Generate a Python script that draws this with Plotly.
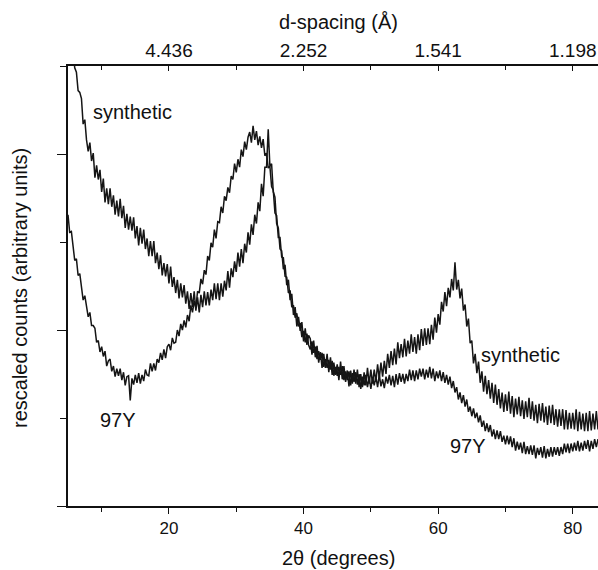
import numpy as np
import plotly.graph_objects as go

# 2-theta sampling grid (degrees), 0.25 deg steps from 5 to 83.75
two_theta = np.arange(5, 84, 0.25)

# rescaled counts (arbitrary units) (100 units per y tick)
counts_97Y = [
    331, 311, 312, 292, 279, 281, 262, 264, 251, 234, 239, 225, 215, 220, 205, 205,
    202, 186, 188, 175, 181, 170, 176, 159, 165, 167, 153, 159, 147, 156, 148, 156,
    143, 152, 137, 147, 148, 120, 145, 138, 149, 140, 151, 139, 149, 142, 155, 149,
    148, 162, 153, 162, 154, 167, 163, 174, 166, 178, 168, 181, 184, 177, 191, 185,
    186, 200, 193, 207, 200, 211, 203, 217, 210, 228, 220, 233, 225, 244, 242, 258,
    252, 268, 263, 284, 279, 299, 294, 314, 304, 323, 322, 340, 333, 352, 347, 362,
    356, 375, 371, 389, 379, 394, 385, 405, 397, 414, 405, 419, 425, 413, 432, 416,
    426, 410, 420, 407, 417, 398, 401, 384, 386, 363, 359, 333, 330, 305, 305, 283,
    282, 261, 260, 242, 245, 226, 228, 214, 219, 204, 208, 192, 199, 186, 196, 183,
    178, 187, 174, 181, 167, 176, 166, 174, 158, 167, 157, 166, 155, 165, 148, 158,
    148, 158, 149, 159, 143, 153, 143, 153, 137, 151, 141, 152, 138, 150, 133, 147,
    137, 149, 135, 146, 133, 146, 137, 147, 135, 149, 136, 144, 134, 147, 139, 149,
    137, 148, 135, 150, 138, 151, 141, 150, 139, 150, 142, 155, 143, 154, 142, 154,
    144, 156, 147, 156, 144, 155, 146, 158, 145, 156, 142, 153, 145, 154, 142, 152,
    140, 149, 138, 147, 134, 142, 129, 135, 121, 129, 117, 126, 113, 121, 107, 113,
    102, 111, 100, 106, 95, 103, 90, 97, 85, 94, 84, 92, 79, 87, 76, 86,
    76, 85, 73, 80, 70, 80, 70, 79, 67, 77, 63, 73, 64, 72, 60, 73,
    59, 68, 59, 69, 58, 69, 54, 66, 58, 67, 55, 68, 54, 65, 56, 67,
    56, 67, 58, 67, 57, 67, 59, 71, 61, 71, 60, 71, 62, 72, 63, 74,
    62, 72, 63, 74, 65, 75, 62, 74, 65, 76, 67, 76,
]

counts_synthetic = [
    592, 560, 545, 515, 498, 493, 472, 470, 463, 434, 439, 416, 403, 413, 392, 401,
    373, 387, 371, 382, 357, 372, 345, 361, 343, 361, 340, 353, 331, 347, 329, 349,
    327, 341, 316, 332, 314, 329, 313, 328, 304, 318, 296, 316, 298, 314, 292, 304,
    284, 301, 284, 301, 276, 288, 269, 285, 262, 276, 261, 275, 253, 272, 249, 260,
    242, 257, 236, 253, 237, 251, 230, 244, 224, 242, 226, 244, 222, 237, 220, 240,
    226, 244, 228, 243, 228, 246, 234, 253, 235, 253, 234, 253, 238, 256, 245, 267,
    248, 270, 260, 278, 266, 288, 272, 292, 276, 298, 288, 311, 297, 320, 308, 331,
    321, 345, 335, 366, 352, 385, 385, 428, 386, 389, 357, 351, 321, 316, 292, 290,
    269, 274, 251, 257, 234, 241, 217, 226, 204, 215, 199, 209, 187, 202, 183, 194,
    190, 172, 188, 169, 182, 163, 175, 157, 173, 157, 173, 152, 169, 149, 163, 149,
    161, 143, 164, 144, 159, 141, 154, 136, 154, 139, 155, 139, 155, 135, 150, 135,
    152, 137, 157, 139, 155, 139, 155, 141, 161, 145, 163, 147, 165, 150, 173, 157,
    176, 160, 179, 161, 186, 168, 184, 169, 190, 170, 188, 173, 195, 175, 192, 173,
    195, 177, 201, 182, 202, 183, 202, 184, 206, 189, 214, 197, 218, 206, 232, 221,
    243, 227, 248, 237, 258, 245, 277, 246, 257, 236, 247, 222, 229, 204, 213, 185,
    188, 162, 173, 151, 164, 140, 153, 130, 148, 127, 143, 122, 140, 117, 138, 115,
    133, 111, 129, 107, 127, 108, 130, 105, 125, 101, 122, 104, 124, 102, 120, 99,
    119, 101, 123, 99, 119, 97, 115, 94, 116, 97, 117, 95, 113, 92, 114, 94,
    115, 92, 110, 90, 110, 91, 110, 87, 109, 87, 106, 88, 106, 87, 110, 85,
    107, 87, 105, 85, 106, 85, 108, 86, 105, 87, 108, 87,
]

top_tick_pos = [20, 40, 60, 80]
top_tick_text = ["4.436", "2.252", "1.541", "1.198"]

labels = [
    ("synthetic", 8.4, 448),
    ("97Y", 9.4, 98),
    ("synthetic", 66.1, 172),
    ("97Y", 61.5, 68),
]

FONT = "Liberation Sans, Arial, Helvetica, sans-serif"
INK = "#151515"

fig = go.Figure()
fig.add_trace(go.Scatter(x=two_theta, y=counts_97Y, mode="lines",
                         line=dict(color=INK, width=1.5), showlegend=False,
                         hoverinfo="skip"))
fig.add_trace(go.Scatter(x=two_theta, y=counts_synthetic, mode="lines",
                         line=dict(color=INK, width=1.5), showlegend=False,
                         hoverinfo="skip"))
# invisible trace bound to the top (d-spacing) axis
fig.add_trace(go.Scatter(x=[top_tick_pos[0]], y=[0], xaxis="x2", mode="markers",
                         marker=dict(opacity=0), showlegend=False, hoverinfo="skip"))

xrange = [5, 83.75]

fig.update_layout(
    width=598, height=570,
    margin=dict(l=68, r=0, t=66, b=64),
    paper_bgcolor="white", plot_bgcolor="white",
    font=dict(family=FONT, color="#111"),
    xaxis=dict(
        range=xrange, showgrid=False, zeroline=False,
        showline=True, linecolor="#111", linewidth=1.6,
        ticks="outside", ticklen=6, tickwidth=1.4, tickcolor="#111",
        tick0=0, dtick=20,
        minor=dict(tick0=0, dtick=10, ticks="outside", ticklen=4, tickwidth=1.4, tickcolor="#111"),
        tickfont=dict(size=17, family=FONT, color="#111"),
    ),
    xaxis2=dict(
        overlaying="x", side="top", range=xrange, showgrid=False, zeroline=False,
        showline=True, linecolor="#111", linewidth=1.6,
        ticks="inside", ticklen=5, tickwidth=1.4, tickcolor="#111",
        tickmode="array", tickvals=top_tick_pos, ticktext=top_tick_text,
        minor=dict(tickmode="array", tickvals=[10, 30, 50, 70], ticks="inside",
                   ticklen=4, tickwidth=1.4, tickcolor="#111"),
        tickfont=dict(size=19, family=FONT, color="#111"),
    ),
    yaxis=dict(
        range=[0, 500], showgrid=False, zeroline=False,
        showline=True, linecolor="#111", linewidth=1.6,
        ticks="outside", ticklen=9, tickwidth=1.4, tickcolor="#111",
        tick0=0, dtick=200, showticklabels=False,
        minor=dict(tick0=0, dtick=100, ticks="outside", ticklen=6, tickwidth=1.4, tickcolor="#111"),
    ),
    yaxis2=dict(
        overlaying="y", side="right", range=[0, 500], showgrid=False, zeroline=False,
        showline=False, ticks="inside", ticklen=6, tickwidth=1.4, tickcolor="#111",
        tickmode="array", tickvals=[200, 400], showticklabels=False,
    ),
)

for text, xv, yv in labels:
    fig.add_annotation(x=xv, y=yv, xref="x", yref="y", text=text, showarrow=False,
                       xanchor="left", yanchor="middle",
                       font=dict(size=20, family=FONT, color="#111"))

# axis titles
fig.add_annotation(x=(338 - 68) / 530, y=(570 - 558 - 64) / 442, xref="paper", yref="paper",
                   text="2θ (degrees)", showarrow=False, xanchor="center", yanchor="middle",
                   font=dict(size=20, family=FONT, color="#111"))
fig.add_annotation(x=(338 - 68) / 530, y=(570 - 20 - 64) / 442, xref="paper", yref="paper",
                   text="d-spacing (Å)", showarrow=False, xanchor="center", yanchor="middle",
                   font=dict(size=20, family=FONT, color="#111"))
fig.add_annotation(x=(20 - 68) / 530, y=(570 - 287 - 64) / 442, xref="paper", yref="paper",
                   text="rescaled counts (arbitrary units)", showarrow=False, textangle=-90,
                   xanchor="center", yanchor="middle",
                   font=dict(size=20, family=FONT, color="#111"))

fig.write_html("out.html", config={"displayModeBar": False},
               post_script="document.body.style.margin='0';document.body.style.overflow='hidden';")
